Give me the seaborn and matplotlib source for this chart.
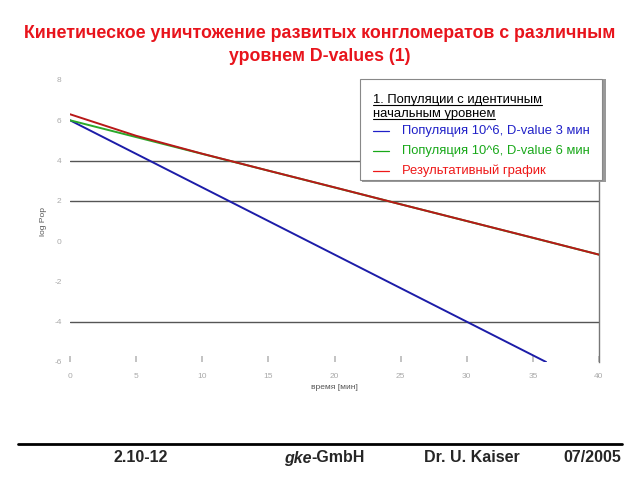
import numpy as np
import pandas as pd
import seaborn as sns
import matplotlib
matplotlib.use("Agg")
import matplotlib.pyplot as plt
from matplotlib.patches import Rectangle
from matplotlib.lines import Line2D

# ---- data ----
t_blue = [0, 36]
y_blue = [6.0, -6.0]
t_green = [0, 40]
y_green = [6.0, -0.67]
t_red = [0, 5, 10, 15, 20, 25, 30, 35, 40]
y_red = [6.30, 5.23, 4.34, 3.50, 2.67, 1.83, 1.00, 0.17, -0.67]

series_names = ["Популяция 10^6, D-value 3 мин",
                "Популяция 10^6, D-value 6 мин",
                "Результативный график"]
x_ticks = [0, 5, 10, 15, 20, 25, 30, 35, 40]
y_ticks = [-6, -4, -2, 0, 2, 4, 6, 8]
grid_levels = [4, 2, -4]

title = "Кинетическое уничтожение развитых конгломератов с различным\nуровнем D-values (1)"
legend_header = ["1. Популяции с идентичным", "начальным уровнем"]
footer = ["2.10-12", "gke", "-GmbH", "Dr. U. Kaiser", "07/2005"]

line_colors = ["#1c1ca8", "#2aa82a", "#b81818"]
text_colors = ["#2020c8", "#18a818", "#ee1818"]

df = pd.concat([
    pd.DataFrame({"t": t_blue, "y": y_blue, "s": series_names[0]}),
    pd.DataFrame({"t": t_green, "y": y_green, "s": series_names[1]}),
    pd.DataFrame({"t": t_red, "y": y_red, "s": series_names[2]}),
])

sns.set_theme(style="white")
plt.rcParams["font.family"] = ["Liberation Sans", "DejaVu Sans"]

W, H = 640, 480
fig = plt.figure(figsize=(6.4, 4.8), dpi=100)
ax = fig.add_axes([70 / W, 1 - 362 / H, (599 - 70) / W, (362 - 80) / H])

for lvl in grid_levels:
    ax.axhline(lvl, color="#555555", lw=1.0, zorder=1)

sns.lineplot(data=df, x="t", y="y", hue="s", palette=line_colors,
             ax=ax, lw=1.4, legend=False, zorder=3, estimator=None, sort=False)

ax.set_xlim(0, 40)
ax.set_ylim(-6, 8)
ax.set_xticks(x_ticks)
ax.set_yticks(y_ticks)
ax.set_xticklabels([str(v) for v in x_ticks])
ax.set_yticklabels([str(v) for v in y_ticks])
ax.tick_params(axis="y", labelsize=6, colors="#aaaaaa", length=0, pad=6)
ax.tick_params(axis="x", labelsize=6, labelcolor="#aaaaaa", direction="in",
               length=4, color="#bbbbbb", bottom=True, pad=8)
for sp in ["left", "top", "bottom"]:
    ax.spines[sp].set_visible(False)
ax.spines["right"].set_color("#777777")
ax.spines["right"].set_linewidth(1.0)
ax.set_xlabel("время [мин]", fontsize=6, color="#555555", labelpad=3)
ax.set_ylabel("log Pop", fontsize=6, color="#555555", labelpad=5)

# title
fig.text(320 / W, 1 - 45 / H, title, ha="center", va="center", fontsize=12.8,
         fontweight="bold", color="#e8141c", linespacing=1.45)

# legend box (manual)
def px(x, y):
    return x / W, 1 - y / H

shadow = Rectangle(px(362, 182), (604 - 360) / W, (182 - 79) / H,
                   transform=fig.transFigure, facecolor="#999999",
                   edgecolor="none", zorder=4)
box = Rectangle(px(360, 180), (602 - 360) / W, (180 - 79) / H,
                transform=fig.transFigure, facecolor="white",
                edgecolor="#888888", lw=0.8, zorder=5)
fig.patches.extend([shadow, box])

fs_leg = 9.4
hdr_texts = []
for i, line in enumerate(legend_header):
    base_y = 103.5 + 14 * i
    tx = fig.text(*px(373, base_y), line, ha="left", va="baseline",
                  fontsize=fs_leg, color="black", zorder=6)
    hdr_texts.append((tx, base_y))

for i, (name, c_line, c_txt) in enumerate(zip(series_names, line_colors, text_colors)):
    yy = 131 + 20 * i
    fig.lines.append(Line2D([373 / W, 389 / W], [1 - yy / H, 1 - yy / H],
                            transform=fig.transFigure, color=c_txt, lw=0.9, zorder=6))
    fig.text(*px(402, yy), name, ha="left", va="center", fontsize=fs_leg,
             color=c_txt, zorder=6)

fig.canvas.draw()
r = fig.canvas.get_renderer()
for tx, base_y in hdr_texts:
    bb = tx.get_window_extent(r)
    yline = 1 - (base_y + 1.3) / H
    fig.lines.append(Line2D([bb.x0 / W, bb.x1 / W], [yline, yline],
                            transform=fig.transFigure, color="black", lw=0.8, zorder=6))

# footer
fig.lines.append(Line2D([18 / W, 622 / W], [1 - 444 / H, 1 - 444 / H],
                        transform=fig.transFigure, color="black", lw=2.0))
fs_f = 11.5
fig.text(*px(141, 458), footer[0], ha="center", va="center", fontsize=fs_f,
         fontweight="bold")
g = fig.text(*px(284, 458), footer[1], ha="left", va="center", fontsize=fs_f,
             fontweight="bold", fontstyle="italic")
fig.canvas.draw()
gb = g.get_window_extent(r)
fig.text(gb.x1 / W, 1 - 458 / H, footer[2], ha="left", va="center", fontsize=fs_f,
         fontweight="bold")
fig.text(*px(472, 458), footer[3], ha="center", va="center", fontsize=fs_f,
         fontweight="bold")
fig.text(*px(621, 458), footer[4], ha="right", va="center", fontsize=fs_f,
         fontweight="bold")

fig.savefig("out.png", dpi=100)
